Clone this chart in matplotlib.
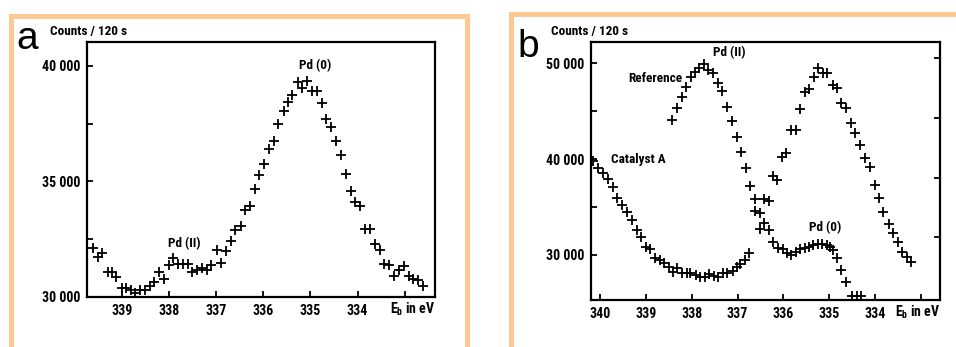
import matplotlib
matplotlib.use("Agg")
import matplotlib.pyplot as plt
from matplotlib.patches import Rectangle
from matplotlib.ticker import FixedLocator, FuncFormatter
from matplotlib import font_manager

# ---------------- data: panel a ----------------
a_ev = [339.61, 339.51, 339.42, 339.30, 339.21, 339.11, 338.99, 338.91, 338.81, 338.72,
        338.61, 338.51, 338.41, 338.31, 338.20, 338.10, 338.00, 337.91, 337.80, 337.70,
        337.60, 337.50, 337.40, 337.30, 337.20, 337.10, 336.99, 336.90, 336.79, 336.69,
        336.59, 336.48, 336.38, 336.28, 336.18, 336.08, 335.98, 335.88, 335.77, 335.68,
        335.57, 335.48, 335.38, 335.27, 335.17, 335.07, 334.97, 334.87, 334.76, 334.66,
        334.56, 334.46, 334.36, 334.25, 334.15, 334.05, 333.95, 333.84, 333.74, 333.64,
        333.53, 333.44, 333.34, 333.23, 333.12, 333.02, 332.92, 332.82, 332.72, 332.61]
a_counts = [32140, 31730, 31920, 31100, 31090, 30870, 30380, 30380, 30320, 30170,
            30310, 30310, 30460, 30650, 31080, 30780, 31380, 31680, 31420, 31420,
            31430, 31090, 31160, 31270, 31160, 31380, 32040, 31450, 32010, 32420,
            32890, 33060, 33780, 33940, 34650, 35270, 35740, 36420, 36750, 37500,
            38040, 38440, 38730, 39310, 39060, 39340, 38920, 38920, 38370, 37720,
            37360, 36750, 36160, 35300, 34590, 34110, 33940, 32960, 32960, 32280,
            32020, 31410, 31370, 30890, 31180, 31330, 30890, 30790, 30720, 30460]

# ---------------- data: panel b ----------------
catA_ev = [340.15, 340.04, 339.93, 339.82, 339.72, 339.62, 339.53, 339.42, 339.31, 339.20,
           339.11, 339.00, 338.90, 338.80, 338.69, 338.61, 338.49, 338.40, 338.32, 338.22,
           338.11, 338.03, 337.91, 337.82, 337.71, 337.62, 337.52, 337.42, 337.32, 337.23,
           337.11, 337.02, 336.94, 336.84, 336.75, 336.62, 336.52, 336.43, 336.31, 336.23,
           336.14, 336.04, 335.94, 335.83, 335.73, 335.63, 335.54, 335.44, 335.34, 335.25,
           335.14, 335.05, 334.93, 334.83, 334.74, 334.64, 334.52, 334.43, 334.32, 334.23,
           334.12, 334.01, 333.92, 333.82, 333.70, 333.60, 333.50, 333.41, 333.31, 333.21]
catA_counts = [39840, 39040, 38520, 37900, 37130, 35910, 35220, 34520, 33650, 32610,
               31850, 30870, 30590, 29650, 29480, 29200, 28710, 28260, 28610, 28160,
               28160, 28090, 27910, 27740, 27670, 28020, 27810, 27740, 28160, 28160,
               28360, 28710, 29060, 29480, 30170, 34620, 32680, 35810, 35670, 38240,
               37830, 40200, 40610, 43040, 43040, 45240, 47040, 47290, 48610, 49480,
               49020, 48960, 47740, 47400, 45890, 45310, 43800, 42700, 41480, 40090,
               39210, 37300, 35920, 34520, 33230, 32330, 31390, 30340, 29820, 29300]

ref_ev = [338.42, 338.32, 338.22, 338.13, 338.02, 337.93, 337.84, 337.74, 337.64, 337.53,
          337.43, 337.33, 337.22, 337.13, 337.02, 336.92, 336.82, 336.72, 336.62, 336.52,
          336.42, 336.31, 336.22, 336.12, 336.02, 335.92, 335.83, 335.73, 335.63, 335.54,
          335.44, 335.36, 335.25, 335.15, 335.05, 334.98, 334.92, 334.83, 334.74, 334.64,
          334.50, 334.40, 334.31]
ref_counts = [44090, 45310, 46520, 47500, 48610, 49130, 49480, 49930, 49300, 49020,
              47920, 47150, 45480, 43980, 42340, 40780, 39050, 37200, 35810, 34350,
              33370, 32610, 31390, 30700, 30590, 30170, 30000, 30340, 30590, 30700,
              30870, 31040, 31150, 31150, 31040, 30800, 30520, 29650, 28430, 27210,
              25750, 25700, 25700]

# ---------------- axes tick definitions ----------------
a_xticks = [339, 338, 337, 336, 335, 334, 333]
a_xlabels = ["339", "338", "337", "336", "335", "334", ""]
a_yticks = [30000, 35000, 40000]
a_yminor = [32500, 37500]
b_xticks = [340, 339, 338, 337, 336, 335, 334, 333]
b_xlabels = ["340", "339", "338", "337", "336", "335", "334", ""]
b_yticks = [30000, 40000, 50000]
b_yminor = [35000, 45000]
b_yright = [31850, 38070, 44330, 50530]

# ---------------- font choice (narrow if available) ----------------
_names = {f.name for f in font_manager.fontManager.ttflist}
NARROW = None
for cand in ["Liberation Sans Narrow", "DejaVu Sans Condensed", "Roboto Condensed",
             "Open Sans Condensed", "Noto Sans Condensed"]:
    if cand in _names:
        NARROW = cand
        break
if NARROW is not None:
    FONT = [NARROW, "DejaVu Sans"]
    SC = 1.0
    STRETCH = "normal"
else:
    FONT = ["DejaVu Sans"]
    SC = 0.84
    STRETCH = "condensed"

W, H = 956, 347
fig = plt.figure(figsize=(W / 100, H / 100), dpi=100)
fig.patch.set_facecolor("white")
ORANGE = "#FCC995"


def fx(px):
    return px / W


def fy(py):
    return 1 - py / H


TXT = dict(family=FONT, fontweight="bold", fontstretch=STRETCH)

# orange frames
fig.add_artist(Rectangle((fx(10.5), fy(362)), fx(467) - fx(10.5), fy(16) - fy(362),
                         transform=fig.transFigure, fill=False, ec=ORANGE, lw=3.6, clip_on=False))
fig.add_artist(Rectangle((fx(511), fy(362)), fx(975) - fx(511), fy(13.5) - fy(362),
                         transform=fig.transFigure, fill=False, ec=ORANGE, lw=3.6, clip_on=False))


def fmt(v, pos=None):
    return f"{int(v):,}".replace(",", " ")


def style_axes(ax):
    for sp in ax.spines.values():
        sp.set_linewidth(1.6)
        sp.set_color("black")
    ax.tick_params(axis="both", which="major", direction="in", length=4, width=1.3,
                   labelsize=10 * SC, pad=5, colors="black")
    ax.tick_params(axis="both", which="minor", direction="in", length=4, width=1.3)
    for lab in ax.get_xticklabels() + ax.get_yticklabels():
        lab.set_family(FONT)
        lab.set_fontweight("bold")
        lab.set_fontstretch(STRETCH)


mk = dict(marker="+", linestyle="none", color="black", markersize=7, markeredgewidth=1.3)

# ---------------- panel a ----------------
axa = fig.add_axes([fx(87), fy(297), fx(435) - fx(87), fy(42) - fy(297)])
axa.plot(a_ev, a_counts, clip_on=False, **mk)
axa.set_xlim(339.735, 332.36)
axa.set_ylim(30000, 41030)
axa.xaxis.set_major_locator(FixedLocator(a_xticks))
axa.set_xticklabels(a_xlabels)
axa.yaxis.set_major_locator(FixedLocator(a_yticks))
axa.yaxis.set_minor_locator(FixedLocator(a_yminor))
axa.yaxis.set_major_formatter(FuncFormatter(fmt))
style_axes(axa)
axa.text(334.90, 40000, "Pd (0)", ha="center", va="center", fontsize=9.5 * SC, **TXT)
axa.text(337.67, 32300, "Pd (II)", ha="center", va="center", fontsize=9.5 * SC, **TXT)

# ---------------- panel b ----------------
axb = fig.add_axes([fx(591), fy(300), fx(940) - fx(591), fy(42) - fy(300)])
axb.plot(catA_ev, catA_counts, **mk)
axb.plot(ref_ev, ref_counts, **mk)
axb.set_xlim(340.196, 332.586)
axb.set_ylim(25304, 52227)
axb.xaxis.set_major_locator(FixedLocator(b_xticks))
axb.set_xticklabels(b_xlabels)
axb.yaxis.set_major_locator(FixedLocator(b_yticks))
axb.yaxis.set_minor_locator(FixedLocator(b_yminor))
axb.yaxis.set_major_formatter(FuncFormatter(fmt))
style_axes(axb)
axb2 = axb.twinx()
axb2.set_ylim(axb.get_ylim())
axb2.yaxis.set_major_locator(FixedLocator(b_yright))
axb2.tick_params(axis="y", direction="in", length=4, width=1.3, labelright=False)
for sp in axb2.spines.values():
    sp.set_visible(False)

axb.text(337.19, 51100, "Pd (II)", ha="center", va="center", fontsize=9.5 * SC, **TXT)
axb.text(338.79, 48400, "Reference", ha="center", va="center", fontsize=9.5 * SC, **TXT)
axb.text(339.17, 40000, "Catalyst A", ha="center", va="center", fontsize=9.5 * SC, **TXT)
axb.text(335.08, 32900, "Pd (0)", ha="center", va="center", fontsize=9.5 * SC, **TXT)

# axis captions
for xpx, ypx in [(50, 31), (551, 31)]:
    fig.text(fx(xpx), fy(ypx), "Counts / 120 s", ha="left", va="center",
             fontsize=9.5 * SC, **TXT)
fig.text(fx(435), fy(309), r"E$_\mathregular{b}$ in eV", ha="right", va="center",
         fontsize=10 * SC, **TXT)
fig.text(fx(940), fy(312), r"E$_\mathregular{b}$ in eV", ha="right", va="center",
         fontsize=10 * SC, **TXT)

# panel letters
fig.text(fx(16), fy(49), "a", ha="left", va="baseline", fontsize=28,
         family=["Liberation Sans", "DejaVu Sans"])
fig.text(fx(517), fy(57), "b", ha="left", va="baseline", fontsize=28,
         family=["Liberation Sans", "DejaVu Sans"])

fig.savefig("out.png", dpi=100, facecolor="white")
